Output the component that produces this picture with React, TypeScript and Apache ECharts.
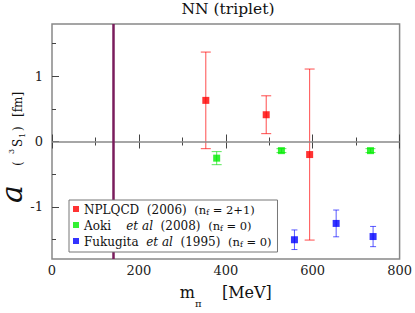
import React, { useEffect, useRef } from "react";
import * as echarts from "echarts";

// ---- data ----
const seriesNames = ["NPLQCD", "Aoki", "Fukugita"];
const seriesColors = ["#ff0000", "#00ee00", "#0000ff"];
const barColors = ["rgba(255,0,0,0.7)", "rgba(0,220,0,0.65)", "rgba(0,0,255,0.65)"];
const capHalf = [5, 5, 3];

const nplqcdX = [354, 493, 593];
const nplqcdY = [0.63, 0.41, -0.2];
const nplqcdErr = [0.74, 0.29, 1.31];

const aokiX = [379, 528, 733];
const aokiY = [-0.255, -0.14, -0.14];
const aokiErr = [0.1, 0.03, 0.03];

const fukugitaX = [558, 654, 739];
const fukugitaY = [-1.505, -1.255, -1.456];
const fukugitaErr = [0.15, 0.205, 0.155];

const groupsX = [nplqcdX, aokiX, fukugitaX];
const groupsY = [nplqcdY, aokiY, fukugitaY];
const groupsErr = [nplqcdErr, aokiErr, fukugitaErr];

const legendTexts = [
  "{t|NPLQCD  (2006)  }{s|(n}{sub|f}{s| = 2+1)}",
  "{t|Aoki    }{i|et al}{t|  (2008)  }{s|(n}{sub|f}{s| = 0)}",
  "{t|Fukugita  }{i|et al}{t|  (1995)  }{s|(n}{sub|f}{s| = 0)}",
];

const physicalPionMass = 140;
const xTickMax = 800;
const yMin = -1.8;
const yMax = 1.8;
const yMajorTicks = [-1, 0, 1];
const yMinorTicks = [-1.5, -0.5, 0.5, 1.5];

const FONT = "DejaVu Serif";

// y-axis title pieces: [text, local x, fontSize, baseline shift, italic]
const yTitlePieces: [string, number, number, number, boolean][] = [
  ["a", 1, 30, 0, true],
  ["(", 38, 12, 0, false],
  ["3", 50, 8, -8, false],
  ["S", 57, 12, 0, false],
  ["1", 66, 8, 3, false],
  [")", 73, 12, 0, false],
  ["[fm]", 87, 12, 0, false],
];

export default function App() {
  const ref = useRef<HTMLDivElement>(null);
  useEffect(() => {
    if (!ref.current) return;
    const chart = echarts.init(ref.current, undefined, { renderer: "svg" });

    const series: any[] = [];
    seriesNames.forEach((name, gi) => {
      const data = groupsX[gi].map((x, i) => [x, groupsY[gi][i], groupsErr[gi][i]]);
      series.push({
        type: "custom",
        name: name + "-err",
        xAxisIndex: 0,
        yAxisIndex: 0,
        z: 2,
        silent: true,
        data,
        renderItem: (params: any, api: any) => {
          const x = api.value(0);
          const y = api.value(1);
          const e = api.value(2);
          const top = api.coord([x, y + e]);
          const bot = api.coord([x, y - e]);
          const c = capHalf[gi];
          const st = { stroke: barColors[gi], lineWidth: 1 };
          return {
            type: "group",
            children: [
              { type: "line", shape: { x1: top[0], y1: top[1], x2: bot[0], y2: bot[1] }, style: st },
              { type: "line", shape: { x1: top[0] - c, y1: top[1], x2: top[0] + c, y2: top[1] }, style: st },
              { type: "line", shape: { x1: bot[0] - c, y1: bot[1], x2: bot[0] + c, y2: bot[1] }, style: st },
            ],
          };
        },
      });
      series.push({
        type: "scatter",
        name,
        xAxisIndex: 0,
        yAxisIndex: 0,
        z: 3,
        symbol: "rect",
        symbolSize: 7,
        itemStyle: { color: seriesColors[gi] },
        data: data.map((d) => [d[0], d[1]]),
        markLine:
          gi === 0
            ? {
                silent: true,
                symbol: "none",
                label: { show: false },
                data: [
                  { yAxis: 0, lineStyle: { color: "#888", width: 1.5, type: "solid" } },
                  { xAxis: physicalPionMass, lineStyle: { color: "#7a1d5c", width: 2.5, type: "solid" } },
                ],
              }
            : undefined,
      });
    });

    const tickLabelStyle = { fontFamily: FONT, fontSize: 13, color: "#222" };

    const yTitleChildren = yTitlePieces.map(([text, lx, fs, shift, italic]) => ({
      type: "text",
      x: lx,
      y: shift - 0.35 * fs,
      style: {
        text,
        fontFamily: FONT,
        fontSize: fs,
        fontStyle: italic ? "italic" : "normal",
        fill: "#111",
        align: "left",
        verticalAlign: "middle",
      },
    }));

    chart.setOption({
      animation: false,
      backgroundColor: "#fff",
      grid: {
        left: 52,
        right: 12,
        top: 24,
        bottom: 42,
        show: true,
        borderColor: "#888",
        borderWidth: 1.5,
        backgroundColor: "transparent",
      },
      legend: {
        data: seriesNames,
        orient: "vertical",
        left: 69,
        top: 200,
        padding: [4, 6, 4, 4],
        itemGap: 4,
        itemWidth: 6,
        itemHeight: 6,
        icon: "rect",
        backgroundColor: "#fff",
        borderColor: "#777",
        borderWidth: 1,
        z: 10,
        formatter: (name: string) => legendTexts[seriesNames.indexOf(name)],
        textStyle: {
          fontFamily: FONT,
          color: "#111",
          rich: {
            t: { fontFamily: FONT, fontSize: 12, lineHeight: 14, verticalAlign: "bottom", color: "#111" },
            i: { fontFamily: FONT, fontSize: 12, fontStyle: "italic", lineHeight: 14, verticalAlign: "bottom", color: "#111" },
            s: { fontFamily: FONT, fontSize: 11.5, lineHeight: 14, verticalAlign: "bottom", color: "#111" },
            sub: { fontFamily: FONT, fontSize: 7.5, lineHeight: 9, verticalAlign: "bottom", color: "#111" },
          },
        },
      },
      graphic: [
        {
          type: "text",
          x: 228,
          y: 9,
          style: {
            text: "NN (triplet)",
            fontFamily: FONT,
            fontSize: 15.5,
            fill: "#111",
            align: "center",
            verticalAlign: "middle",
          },
        },
        {
          type: "group",
          x: 22,
          y: 204,
          rotation: Math.PI / 2,
          children: yTitleChildren,
        },
      ],
      xAxis: [
        {
          type: "value",
          position: "bottom",
          min: 0,
          max: xTickMax,
          interval: 200,
          axisLine: { show: false },
          splitLine: { show: false },
          axisTick: { inside: true, length: 7, lineStyle: { color: "#444", width: 1 } },
          minorTick: { show: true, splitNumber: 2, length: 4, lineStyle: { color: "#444", width: 1 } },
          axisLabel: { ...tickLabelStyle, margin: 5 },
          name: "{t|m}{sub|π}{t|    [MeV]}",
          nameLocation: "middle",
          nameGap: 23,
          nameTextStyle: {
            fontFamily: FONT,
            rich: {
              t: { fontFamily: FONT, fontSize: 16, lineHeight: 18, verticalAlign: "bottom", color: "#111" },
              sub: { fontFamily: FONT, fontSize: 10, lineHeight: 12, verticalAlign: "bottom", color: "#111", padding: [0, 0, -8, 0] },
            },
          },
        },
        {
          type: "value",
          position: "top",
          min: 0,
          max: xTickMax,
          interval: 200,
          axisLine: { show: false },
          splitLine: { show: false },
          axisTick: { inside: true, length: 7, lineStyle: { color: "#444", width: 1 } },
          minorTick: { show: true, splitNumber: 2, length: 4, lineStyle: { color: "#444", width: 1 } },
          axisLabel: { show: false },
        },
      ],
      yAxis: [
        {
          type: "value",
          position: "left",
          min: yMin,
          max: yMax,
          axisLine: { show: false },
          splitLine: { show: false },
          axisTick: { inside: true, length: 7, customValues: yMajorTicks, lineStyle: { color: "#444", width: 1 } },
          axisLabel: { ...tickLabelStyle, margin: 9, customValues: yMajorTicks },
        },
        {
          type: "value",
          position: "left",
          min: yMin,
          max: yMax,
          axisLine: { show: false },
          splitLine: { show: false },
          axisTick: { inside: true, length: 4, customValues: yMinorTicks, lineStyle: { color: "#444", width: 1 } },
          axisLabel: { show: false },
        },
      ],
      series,
    });

    return () => chart.dispose();
  }, []);

  return <div ref={ref} style={{ width: 415, height: 313, position: "absolute", left: 0, top: 0 }} />;
}
